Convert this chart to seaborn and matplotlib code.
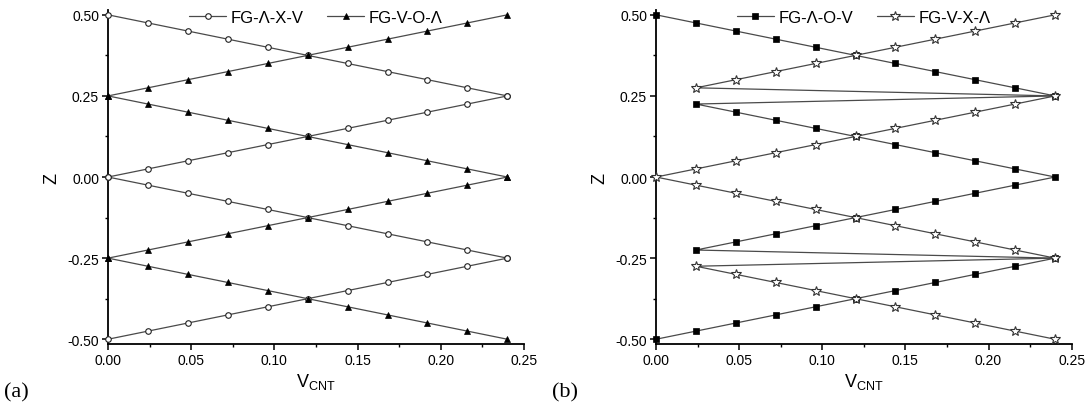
import matplotlib
matplotlib.use("Agg")
import matplotlib.pyplot as plt
import seaborn as sns
from matplotlib.ticker import MultipleLocator, FormatStrFormatter
from matplotlib.lines import Line2D

sns.set_theme(style="ticks")
plt.rcParams['font.family'] = ['Liberation Sans', 'DejaVu Sans']
plt.rcParams['mathtext.fontset'] = 'custom'
plt.rcParams['mathtext.rm'] = 'Liberation Sans'
plt.rcParams['mathtext.it'] = 'Liberation Sans'
plt.rcParams['text.color'] = 'black'
plt.rcParams['axes.labelcolor'] = 'black'
plt.rcParams['xtick.color'] = 'black'
plt.rcParams['ytick.color'] = 'black'

# ---------------- data ----------------
V_CNT = [0.000, 0.024, 0.048, 0.072, 0.096, 0.120, 0.144, 0.168, 0.192, 0.216, 0.240]

# panel (a): FG-Λ-X-V branches (open circles)
a_lxv_1 = [0.500, 0.475, 0.450, 0.425, 0.400, 0.375, 0.350, 0.325, 0.300, 0.275, 0.250]
a_lxv_2 = [0.000, 0.025, 0.050, 0.075, 0.100, 0.125, 0.150, 0.175, 0.200, 0.225, 0.250]
a_lxv_3 = [0.000, -0.025, -0.050, -0.075, -0.100, -0.125, -0.150, -0.175, -0.200, -0.225, -0.250]
a_lxv_4 = [-0.500, -0.475, -0.450, -0.425, -0.400, -0.375, -0.350, -0.325, -0.300, -0.275, -0.250]
# panel (a): FG-V-O-Λ branches (filled triangles)
a_vol_1 = [0.250, 0.275, 0.300, 0.325, 0.350, 0.375, 0.400, 0.425, 0.450, 0.475, 0.500]
a_vol_2 = [0.250, 0.225, 0.200, 0.175, 0.150, 0.125, 0.100, 0.075, 0.050, 0.025, 0.000]
a_vol_3 = [-0.250, -0.225, -0.200, -0.175, -0.150, -0.125, -0.100, -0.075, -0.050, -0.025, 0.000]
a_vol_4 = [-0.250, -0.275, -0.300, -0.325, -0.350, -0.375, -0.400, -0.425, -0.450, -0.475, -0.500]

# panel (b): FG-Λ-O-V (filled squares), continuous path
b_lov_x = [0.000, 0.024, 0.048, 0.072, 0.096, 0.120, 0.144, 0.168, 0.192, 0.216, 0.240,
           0.024, 0.048, 0.072, 0.096, 0.120, 0.144, 0.168, 0.192, 0.216, 0.240,
           0.216, 0.192, 0.168, 0.144, 0.120, 0.096, 0.072, 0.048, 0.024,
           0.240,
           0.216, 0.192, 0.168, 0.144, 0.120, 0.096, 0.072, 0.048, 0.024, 0.000]
b_lov_y = [0.500, 0.475, 0.450, 0.425, 0.400, 0.375, 0.350, 0.325, 0.300, 0.275, 0.250,
           0.225, 0.200, 0.175, 0.150, 0.125, 0.100, 0.075, 0.050, 0.025, 0.000,
           -0.025, -0.050, -0.075, -0.100, -0.125, -0.150, -0.175, -0.200, -0.225,
           -0.250,
           -0.275, -0.300, -0.325, -0.350, -0.375, -0.400, -0.425, -0.450, -0.475, -0.500]
# panel (b): FG-V-X-Λ (open stars), continuous path
b_vxl_x = [0.240, 0.216, 0.192, 0.168, 0.144, 0.120, 0.096, 0.072, 0.048, 0.024,
           0.240,
           0.216, 0.192, 0.168, 0.144, 0.120, 0.096, 0.072, 0.048, 0.024, 0.000,
           0.024, 0.048, 0.072, 0.096, 0.120, 0.144, 0.168, 0.192, 0.216, 0.240,
           0.024, 0.048, 0.072, 0.096, 0.120, 0.144, 0.168, 0.192, 0.216, 0.240]
b_vxl_y = [0.500, 0.475, 0.450, 0.425, 0.400, 0.375, 0.350, 0.325, 0.300, 0.275,
           0.250,
           0.225, 0.200, 0.175, 0.150, 0.125, 0.100, 0.075, 0.050, 0.025, 0.000,
           -0.025, -0.050, -0.075, -0.100, -0.125, -0.150, -0.175, -0.200, -0.225, -0.250,
           -0.275, -0.300, -0.325, -0.350, -0.375, -0.400, -0.425, -0.450, -0.475, -0.500]

labels_a = ["FG-Λ-X-V", "FG-V-O-Λ"]
labels_b = ["FG-Λ-O-V", "FG-V-X-Λ"]
x_ticks = [0.00, 0.05, 0.10, 0.15, 0.20, 0.25]
y_ticks = [-0.50, -0.25, 0.00, 0.25, 0.50]

# ---------------- styles ----------------
LINE_C = '#4a4a4a'
circ = dict(marker='o', markersize=4.0, markerfacecolor='white', markeredgecolor='#222222', markeredgewidth=0.8)
tri = dict(marker='^', markersize=5, markerfacecolor='black', markeredgecolor='black', markeredgewidth=0.5)
sq = dict(marker='s', markersize=4.0, markerfacecolor='black', markeredgecolor='black', markeredgewidth=0.5)
star = dict(marker='*', markersize=7.5, markerfacecolor='white', markeredgecolor='#333333', markeredgewidth=0.8)

fig = plt.figure(figsize=(10.88, 4.06), dpi=100)
ax1 = fig.add_axes([0.0993, 0.150, 0.3823, 0.823])
ax2 = fig.add_axes([0.603, 0.150, 0.382, 0.823])


def line(ax, x, y, st):
    sns.lineplot(x=x, y=y, ax=ax, sort=False, estimator=None, color=LINE_C,
                 linewidth=0.9, clip_on=False, legend=False, zorder=3, **st)


for yy in [a_lxv_1, a_lxv_2, a_lxv_3, a_lxv_4]:
    line(ax1, V_CNT, yy, circ)
for yy in [a_vol_1, a_vol_2, a_vol_3, a_vol_4]:
    line(ax1, V_CNT, yy, tri)

line(ax2, b_lov_x, b_lov_y, sq)
line(ax2, b_vxl_x, b_vxl_y, star)


def handle(st):
    return Line2D([], [], color=LINE_C, linewidth=0.9, **st)


for ax, labs, sts in [(ax1, labels_a, [circ, tri]), (ax2, labels_b, [sq, star])]:
    ax.set_xlim(0, 0.25)
    ax.set_ylim(-0.515, 0.515)
    ax.set_xticks(x_ticks)
    ax.set_yticks(y_ticks)
    ax.xaxis.set_minor_locator(MultipleLocator(0.025))
    ax.yaxis.set_minor_locator(MultipleLocator(0.125))
    ax.xaxis.set_major_formatter(FormatStrFormatter('%.2f'))
    ax.yaxis.set_major_formatter(FormatStrFormatter('%.2f'))
    for s in ['top', 'right']:
        ax.spines[s].set_visible(False)
    for s in ['left', 'bottom']:
        ax.spines[s].set_linewidth(1.3)
        ax.spines[s].set_color('black')
    ax.tick_params(which='major', direction='out', length=4.5, width=1.1, labelsize=10, pad=2, color='black')
    ax.tick_params(which='minor', direction='out', length=2.5, width=1.0, color='black')
    ax.set_xlabel(r'$\mathrm{V}_{\mathrm{CNT}}$', fontsize=13, labelpad=3)
    ax.set_ylabel('Z', fontsize=13, labelpad=5)
    ax.set_facecolor('white')
    ax.legend(handles=[handle(sts[0]), handle(sts[1])], labels=labs, loc='upper center',
              bbox_to_anchor=(0.5, 1.03), ncol=2, frameon=False, fontsize=12,
              handlelength=2.2, handletextpad=0.3, columnspacing=1.4, borderpad=0.1)

fig.text(0.004, 0.02, '(a)', fontsize=16, family=['Liberation Serif', 'DejaVu Serif'])
fig.text(0.507, 0.02, '(b)', fontsize=16, family=['Liberation Serif', 'DejaVu Serif'])

fig.savefig('out.png', dpi=100, facecolor='white')
